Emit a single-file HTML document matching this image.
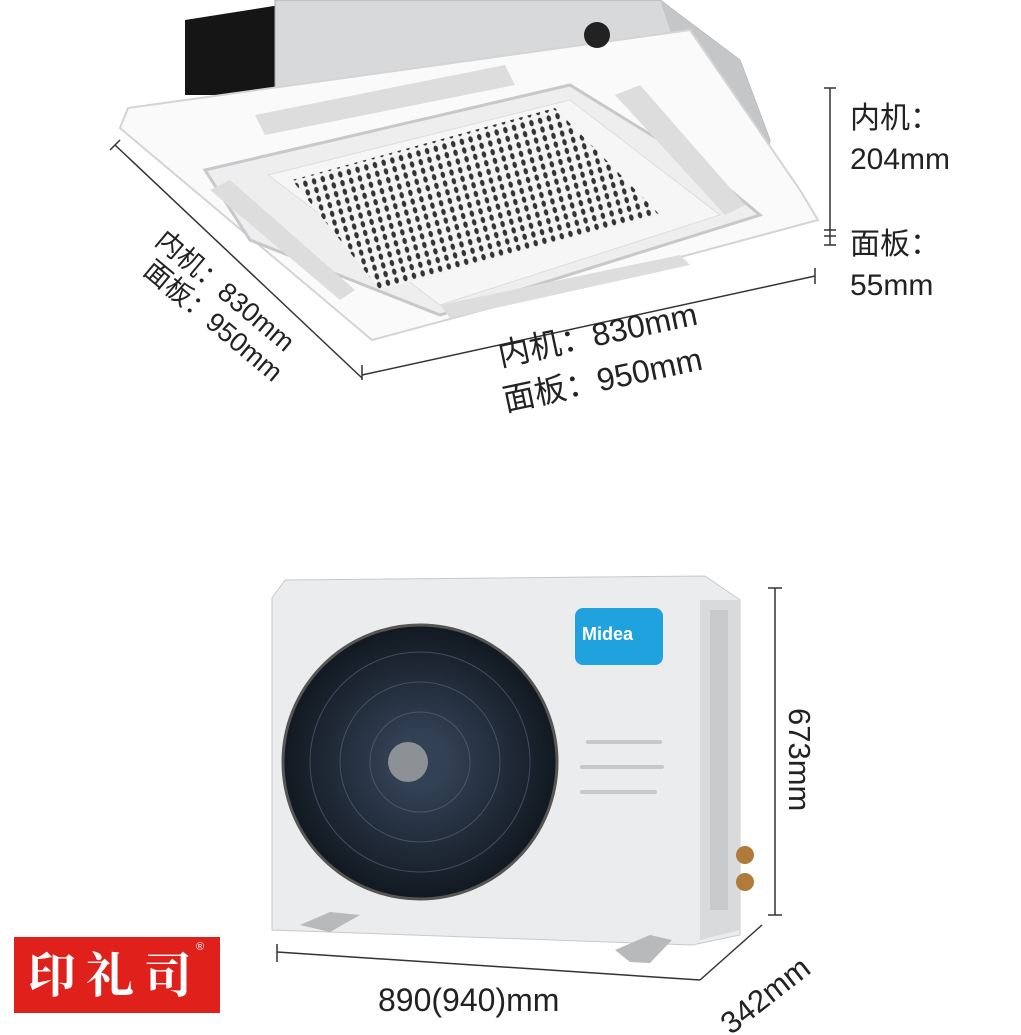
<!DOCTYPE html>
<html><head><meta charset="utf-8"><style>
body{margin:0;background:#fff;}
.wrap{position:relative;width:1021px;height:1035px;overflow:hidden;background:#fff;font-family:"Liberation Sans","Noto Sans CJK SC",sans-serif;}
.t{position:absolute;color:#222;font-size:30px;white-space:nowrap;line-height:1;}
</style></head><body><div class="wrap">
<svg width="1021" height="1035" style="position:absolute;left:0;top:0">
<defs>
<pattern id="dots" width="9" height="9" patternUnits="userSpaceOnUse" patternTransform="rotate(-15)">
<rect width="9" height="9" fill="#f4f4f4"/><ellipse cx="4.5" cy="4.5" rx="2.2" ry="3.2" fill="#333"/></pattern>
<radialGradient id="fan" cx="0.5" cy="0.5" r="0.5"><stop offset="0.2" stop-color="#334155"/><stop offset="1" stop-color="#111820"/></radialGradient>
</defs>
<polygon points="185,20 280,5 280,95 185,95" fill="#151515"/>
<polygon points="275,0 660,0 740,60 770,140 760,200 275,100" fill="#d8d9db" stroke="#aaa"/>
<polygon points="660,0 740,60 770,140 760,200 700,120" fill="#c4c6c8"/>
<polygon points="128,108 690,30 800,190 818,220 372,340 120,128" fill="#fafafa" stroke="#d4d4d4" stroke-width="2"/>
<polygon points="205,170 570,85 700,165 760,215 440,315 250,240" fill="#eeeeef" stroke="#c8c8cc" stroke-width="3"/>
<polygon points="255,115 505,65 515,85 265,135" fill="#ddd"/>
<polygon points="615,95 640,85 745,205 725,215" fill="#ddd"/>
<polygon points="210,190 230,180 355,290 340,300" fill="#ddd"/>
<polygon points="440,305 680,255 690,265 450,318" fill="#ddd"/>
<polygon points="268,175 570,100 720,215 440,305" fill="#f6f6f6" stroke="#ddd"/>
<polygon points="292,180 555,108 660,215 380,290" fill="url(#dots)"/>
<circle cx="597" cy="35" r="13" fill="#222"/>
<g stroke="#333" stroke-width="1.5">
<line x1="115" y1="145" x2="362" y2="378"/><line x1="110" y1="150" x2="120" y2="140"/>
<line x1="362" y1="365" x2="362" y2="380"/>
<line x1="362" y1="375" x2="815" y2="276"/><line x1="815" y1="268" x2="815" y2="284"/>
<line x1="830" y1="88" x2="830" y2="245"/>
<line x1="824" y1="88" x2="836" y2="88"/><line x1="824" y1="230" x2="836" y2="230"/><line x1="824" y1="236" x2="836" y2="236"/><line x1="824" y1="245" x2="836" y2="245"/>
</g>
<polygon points="272,598 285,580 705,576 740,600 740,935 692,945 272,930" fill="#ebeced" stroke="#c8c9cb"/>
<polygon points="700,600 740,600 740,930 700,940" fill="#d9dadc"/>
<rect x="710" y="610" width="18" height="300" fill="#c9cacc"/>
<circle cx="420" cy="762" r="137" fill="url(#fan)" stroke="#555" stroke-width="3"/>
<g stroke="#5b6b7d" stroke-width="1" fill="none" opacity="0.6">
<circle cx="420" cy="762" r="110"/><circle cx="420" cy="762" r="80"/><circle cx="420" cy="762" r="50"/></g>
<circle cx="408" cy="762" r="20" fill="#8d9196"/>
<rect x="575" y="608" width="88" height="57" rx="8" fill="#1fa2dd"/>
<g stroke="#c7c8ca" stroke-width="4" stroke-linecap="round"><line x1="588" y1="742" x2="660" y2="742"/><line x1="582" y1="767" x2="662" y2="767"/><line x1="582" y1="792" x2="655" y2="792"/></g>
<circle cx="745" cy="855" r="9" fill="#b07a3a"/><circle cx="745" cy="882" r="9" fill="#b07a3a"/>
<polygon points="300,925 330,912 360,915 330,932" fill="#b8b9bb"/>
<polygon points="615,950 650,935 672,940 650,963 630,962" fill="#b8b9bb"/>
<g stroke="#333" stroke-width="1.5">
<line x1="775" y1="588" x2="775" y2="915"/><line x1="768" y1="588" x2="782" y2="588"/><line x1="768" y1="915" x2="782" y2="915"/>
<line x1="277" y1="952" x2="700" y2="980"/><line x1="277" y1="944" x2="277" y2="962"/>
<line x1="700" y1="980" x2="762" y2="925"/>
</g>
<rect x="14" y="937" width="206" height="76" fill="#e0201a"/>
</svg>
<div class="t" style="left:850px;top:104px;">内机：</div>
<div class="t" style="left:850px;top:145px;">204mm</div>
<div class="t" style="left:850px;top:230px;">面板：</div>
<div class="t" style="left:850px;top:271px;">55mm</div>
<div class="t" style="left:495px;top:340px;transform:rotate(-12deg);transform-origin:0 0;font-size:32px;">内机：830mm</div>
<div class="t" style="left:500px;top:385px;transform:rotate(-12deg);transform-origin:0 0;font-size:32px;">面板：950mm</div>
<div class="t" style="left:168px;top:226px;transform:rotate(40deg);transform-origin:0 0;font-size:27px;">内机：830mm</div>
<div class="t" style="left:156px;top:256px;transform:rotate(40deg);transform-origin:0 0;font-size:27px;">面板：950mm</div>
<div class="t" style="left:582px;top:625px;font-size:18px;color:#fff;font-weight:bold;">Midea</div>
<div class="t" style="left:815px;top:708px;transform:rotate(90deg);transform-origin:0 0;font-size:31px;">673mm</div>
<div class="t" style="left:378px;top:984px;font-size:32px;">890(940)mm</div>
<div class="t" style="left:715px;top:1015px;transform:rotate(-38deg);transform-origin:0 0;font-size:31px;">342mm</div>
<div class="t" style="left:28px;top:948px;font-size:48px;color:#fff;font-family:'Noto Serif CJK SC',serif;font-weight:bold;letter-spacing:10px;">印礼司</div>
<div class="t" style="left:196px;top:942px;font-size:11px;color:#fff;">®</div>
</div></body></html>
